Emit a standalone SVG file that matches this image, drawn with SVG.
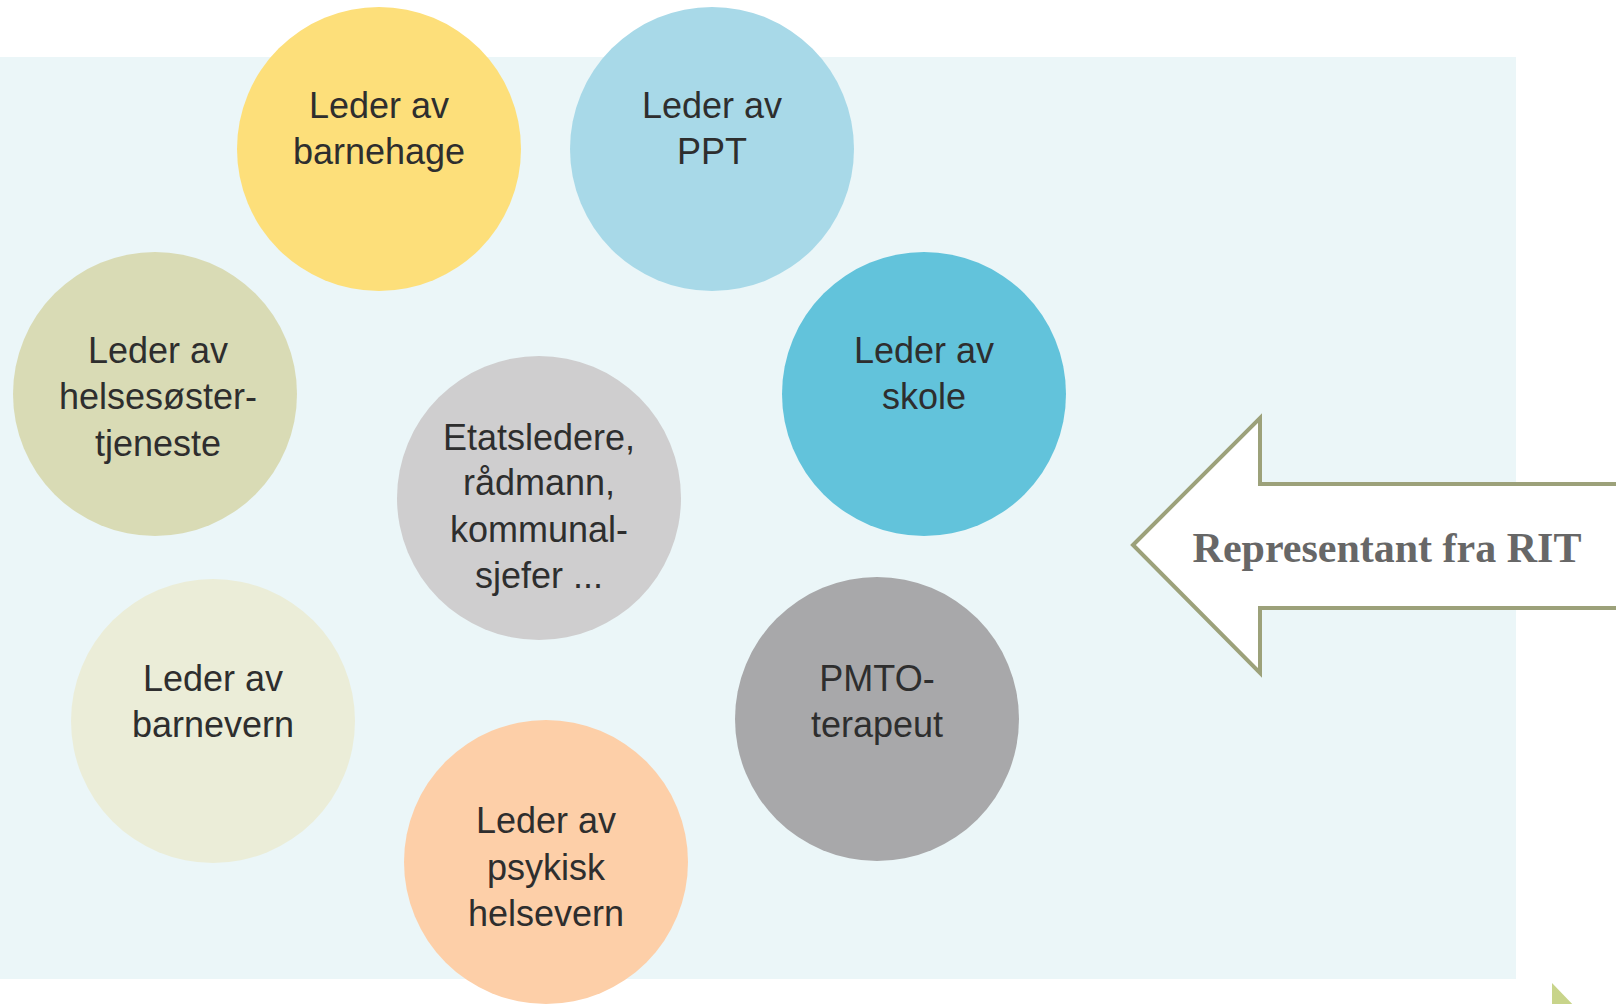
<svg xmlns="http://www.w3.org/2000/svg" width="1616" height="1004" viewBox="0 0 1616 1004">
<style>
.t{font-family:"Liberation Sans",Arial,sans-serif;font-size:36px;fill:#2e2e2e;text-anchor:middle}
.lbl{font-family:"Liberation Serif","Times New Roman",serif;font-size:42px;font-weight:bold;fill:#676767;text-anchor:middle}
</style>
<rect x="0" y="0" width="1616" height="1004" fill="#ffffff"/>
<rect id="panel" x="0" y="57" width="1516" height="922" fill="#ebf6f8"/>
<g id="connectors"/>
<g id="barnehage"><circle cx="379" cy="149" r="142" fill="#fddf7a"/><text class="t" x="379" y="118">Leder av</text><text class="t" x="379" y="164">barnehage</text></g>
<g id="ppt"><circle cx="712" cy="149" r="142" fill="#a8d9e8"/><text class="t" x="712" y="118">Leder av</text><text class="t" x="712" y="164">PPT</text></g>
<g id="skole"><circle cx="924" cy="394" r="142" fill="#62c3db"/><text class="t" x="924" y="363">Leder av</text><text class="t" x="924" y="409">skole</text></g>
<g id="helsesoster"><circle cx="155" cy="394" r="142" fill="#d9dbb5"/><text class="t" x="158" y="363">Leder av</text><text class="t" x="158" y="409">helsesøster-</text><text class="t" x="158" y="456">tjeneste</text></g>
<g id="etatsledere"><circle cx="539" cy="498" r="142" fill="#cfcecf"/><text class="t" x="539" y="450">Etatsledere,</text><text class="t" x="539" y="495">rådmann,</text><text class="t" x="539" y="542">kommunal-</text><text class="t" x="539" y="588">sjefer ...</text></g>
<g id="barnevern"><circle cx="213" cy="721" r="142" fill="#ebedd8"/><text class="t" x="213" y="691">Leder av</text><text class="t" x="213" y="737">barnevern</text></g>
<g id="pmto"><circle cx="877" cy="719" r="142" fill="#a8a8aa"/><text class="t" x="877" y="691">PMTO-</text><text class="t" x="877" y="737">terapeut</text></g>
<g id="psykisk"><circle cx="546" cy="862" r="142" fill="#fdcfa8"/><text class="t" x="546" y="833">Leder av</text><text class="t" x="546" y="880">psykisk</text><text class="t" x="546" y="926">helsevern</text></g>
<g id="rit"><polygon points="1133,545 1260,418 1260,484 1622,484 1622,608 1260,608 1260,673" fill="#ffffff" stroke="#9ca17a" stroke-width="4"/><text class="lbl" x="1387" y="562">Representant fra RIT</text></g>
<polygon id="corner" points="1552,983 1552,1010 1578,1010" fill="#c8d48a"/>
</svg>
